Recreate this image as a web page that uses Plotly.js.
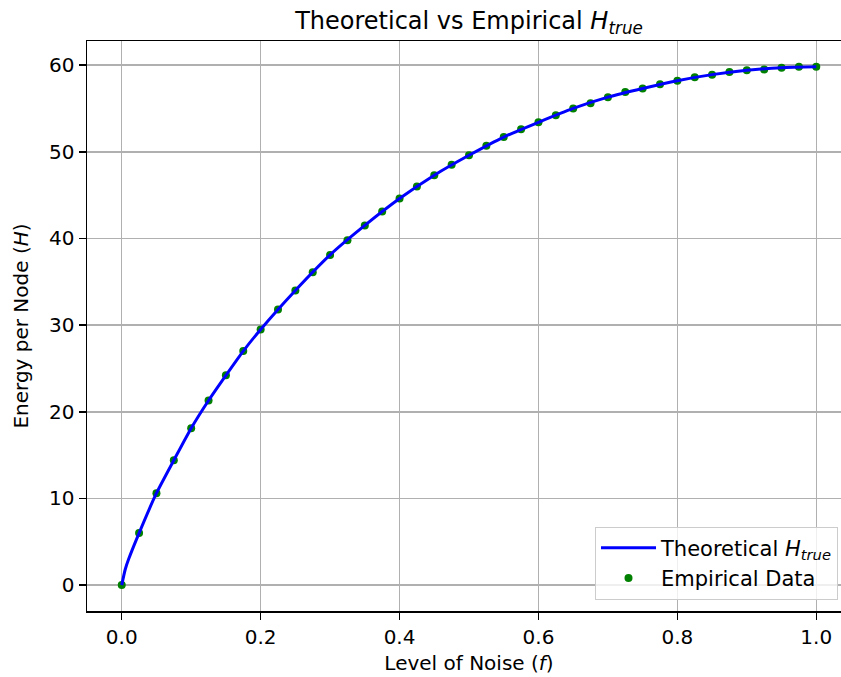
<!DOCTYPE html>
<html>
<head>
<meta charset="utf-8">
<script src="https://cdn.plot.ly/plotly-3.0.1.min.js"></script>
<style>
html,body{margin:0;padding:0;overflow:hidden;background:#fff;}
#chart{width:851px;height:677px;}
</style>
</head>
<body>
<div id="chart"></div>
<script>
// Level of noise (f)
const noiseLevels = [0, 0.025, 0.05, 0.075, 0.1, 0.125, 0.15, 0.175, 0.2, 0.225, 0.25, 0.275, 0.3, 0.325, 0.35, 0.375, 0.4, 0.425, 0.45, 0.475, 0.5, 0.525, 0.55, 0.575, 0.6, 0.625, 0.65, 0.675, 0.7, 0.725, 0.75, 0.775, 0.8, 0.825, 0.85, 0.875, 0.9, 0.925, 0.95, 0.975, 1.0];
// Empirical energy per node
const empiricalH = [0, 6.0, 10.6, 14.4, 18.1, 21.3, 24.2, 27.0, 29.5, 31.8, 34.0, 36.1, 38.1, 39.8, 41.5, 43.1, 44.6, 46.0, 47.3, 48.5, 49.6, 50.7, 51.7, 52.6, 53.4, 54.2, 55.0, 55.6, 56.3, 56.9, 57.3, 57.8, 58.2, 58.6, 58.9, 59.2, 59.4, 59.5, 59.7, 59.8, 59.8];
// Theoretical curve
const theoryF = [0, 0.005, 0.01, 0.025, 0.05, 0.075, 0.1, 0.125, 0.15, 0.175, 0.2, 0.25, 0.3, 0.35, 0.4, 0.45, 0.5, 0.55, 0.6, 0.65, 0.7, 0.75, 0.8, 0.85, 0.9, 0.95, 1.0];
const theoryH = [0, 1.8, 3.0, 6.0, 10.6, 14.4, 18.1, 21.3, 24.2, 27.0, 29.5, 34.0, 38.1, 41.5, 44.6, 47.3, 49.6, 51.7, 53.4, 55.0, 56.3, 57.3, 58.2, 58.9, 59.4, 59.7, 59.8];
const xTicks = [0, 0.2, 0.4, 0.6, 0.8, 1.0];
const yTicks = [0, 10, 20, 30, 40, 50, 60];

const font = {family: 'DejaVu Sans, sans-serif', color: '#000'};

const traces = [
  {
    x: noiseLevels, y: empiricalH, type: 'scatter', mode: 'markers',
    name: 'Empirical Data', legendrank: 2,
    marker: {color: '#008000', size: 8}
  },
  {
    x: theoryF, y: theoryH, type: 'scatter', mode: 'lines',
    name: 'Theoretical <i>H</i><sub><i>true</i></sub>', legendrank: 1,
    line: {color: '#0000ff', width: 3, shape: 'spline', smoothing: 0.6}
  }
];

const axisCommon = {
  showline: true, linecolor: '#000', linewidth: 1.5, mirror: true,
  ticks: 'outside', ticklen: 7, tickwidth: 1.5, tickcolor: '#000',
  showgrid: true, gridcolor: '#b0b0b0', gridwidth: 1.5,
  zeroline: false,
  tickfont: Object.assign({size: 20}, font)
};

const layout = {
  width: 851, height: 677,
  margin: {l: 87, r: 0, t: 41, b: 66},
  paper_bgcolor: '#fff', plot_bgcolor: '#fff',
  font: font,
  title: {
    text: 'Theoretical vs Empirical <i>H</i><sub><i>true</i></sub>',
    font: Object.assign({size: 24}, font),
    x: 0.5, xref: 'paper', xanchor: 'center',
    y: 0.969, yref: 'container', yanchor: 'middle'
  },
  xaxis: Object.assign({}, axisCommon, {
    range: [-0.05, 1.05],
    tickvals: xTicks, ticktext: xTicks.map(v => v.toFixed(1)),
    title: {text: 'Level of Noise (<i>f</i>)', font: Object.assign({size: 20}, font), standoff: 8}
  }),
  yaxis: Object.assign({}, axisCommon, {
    range: [-2.99, 62.78],
    tickvals: yTicks,
    title: {text: 'Energy per Node (<i>H</i>)', font: Object.assign({size: 20}, font), standoff: 15}
  }),
  showlegend: true,
  legend: {
    x: 0.983, y: 0.02, xanchor: 'right', yanchor: 'bottom',
    bgcolor: 'rgba(255,255,255,0.8)', bordercolor: '#cccccc', borderwidth: 1,
    font: Object.assign({size: 21}, font),
    itemwidth: 55
  }
};

Plotly.newPlot('chart', traces, layout, {displayModeBar: false, staticPlot: true});
</script>
</body>
</html>
